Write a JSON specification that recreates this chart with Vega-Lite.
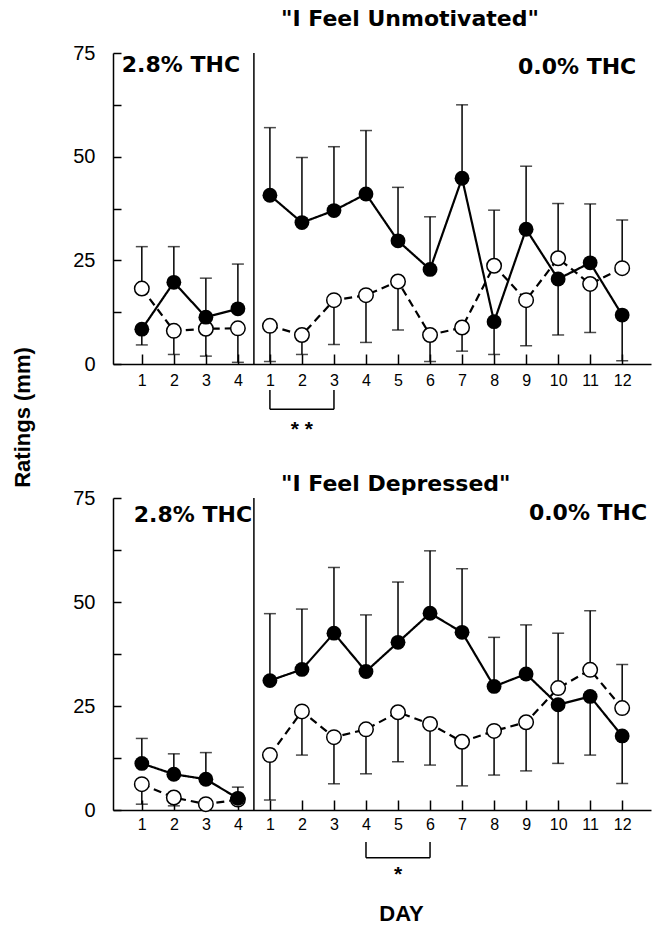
{
  "$schema": "https://vega.github.io/schema/vega-lite/v6.json",
  "background": "white",
  "padding": {"left": 11, "top": 8, "right": 5, "bottom": 0},
  "config": {
    "view": {"stroke": null},
    "axis": {"domainColor": "black", "domainWidth": 1.5, "tickColor": "black", "tickWidth": 1.5, "labelColor": "black", "labelFont": "Liberation Sans", "grid": false, "titleColor": "black", "titleFont": "Liberation Sans", "titleFontWeight": "bold", "labelOverlap": false, "labelFlush": false},
    "title": {"font": "DejaVu Sans", "fontWeight": "bold", "fontSize": 22, "color": "black", "anchor": "start", "frame": "group"}
  },
  "datasets": {
    "pts": [
      {"panel": "U", "phase": "THC", "pos": 1, "grp": "filled", "mean": 8.4, "end": 4.6},
      {"panel": "U", "phase": "THC", "pos": 1, "grp": "open", "mean": 18.2, "end": 28.3},
      {"panel": "U", "phase": "THC", "pos": 2, "grp": "filled", "mean": 19.7, "end": 28.3},
      {"panel": "U", "phase": "THC", "pos": 2, "grp": "open", "mean": 8.0, "end": 2.3},
      {"panel": "U", "phase": "THC", "pos": 3, "grp": "filled", "mean": 11.3, "end": 20.7},
      {"panel": "U", "phase": "THC", "pos": 3, "grp": "open", "mean": 8.5, "end": 1.9},
      {"panel": "U", "phase": "THC", "pos": 4, "grp": "filled", "mean": 13.3, "end": 24.1},
      {"panel": "U", "phase": "THC", "pos": 4, "grp": "open", "mean": 8.6, "end": 0.4},
      {"panel": "U", "phase": "PBO", "pos": 5, "grp": "filled", "mean": 40.7, "end": 57.0},
      {"panel": "U", "phase": "PBO", "pos": 5, "grp": "open", "mean": 9.2, "end": 0.6},
      {"panel": "U", "phase": "PBO", "pos": 6, "grp": "filled", "mean": 34.1, "end": 49.8},
      {"panel": "U", "phase": "PBO", "pos": 6, "grp": "open", "mean": 7.0, "end": 2.3},
      {"panel": "U", "phase": "PBO", "pos": 7, "grp": "filled", "mean": 37.0, "end": 52.4},
      {"panel": "U", "phase": "PBO", "pos": 7, "grp": "open", "mean": 15.4, "end": 4.7},
      {"panel": "U", "phase": "PBO", "pos": 8, "grp": "filled", "mean": 41.0, "end": 56.3},
      {"panel": "U", "phase": "PBO", "pos": 8, "grp": "open", "mean": 16.6, "end": 5.2},
      {"panel": "U", "phase": "PBO", "pos": 9, "grp": "filled", "mean": 29.7, "end": 42.6},
      {"panel": "U", "phase": "PBO", "pos": 9, "grp": "open", "mean": 19.9, "end": 8.2},
      {"panel": "U", "phase": "PBO", "pos": 10, "grp": "filled", "mean": 22.8, "end": 35.5},
      {"panel": "U", "phase": "PBO", "pos": 10, "grp": "open", "mean": 7.0, "end": 0.6},
      {"panel": "U", "phase": "PBO", "pos": 11, "grp": "filled", "mean": 44.8, "end": 62.5},
      {"panel": "U", "phase": "PBO", "pos": 11, "grp": "open", "mean": 8.8, "end": 3.1},
      {"panel": "U", "phase": "PBO", "pos": 12, "grp": "filled", "mean": 10.2, "end": 2.3},
      {"panel": "U", "phase": "PBO", "pos": 12, "grp": "open", "mean": 23.7, "end": 37.1},
      {"panel": "U", "phase": "PBO", "pos": 13, "grp": "filled", "mean": 32.5, "end": 47.7},
      {"panel": "U", "phase": "PBO", "pos": 13, "grp": "open", "mean": 15.4, "end": 4.4},
      {"panel": "U", "phase": "PBO", "pos": 14, "grp": "filled", "mean": 20.5, "end": 7.0},
      {"panel": "U", "phase": "PBO", "pos": 14, "grp": "open", "mean": 25.5, "end": 38.7},
      {"panel": "U", "phase": "PBO", "pos": 15, "grp": "filled", "mean": 24.4, "end": 38.6},
      {"panel": "U", "phase": "PBO", "pos": 15, "grp": "open", "mean": 19.3, "end": 7.6},
      {"panel": "U", "phase": "PBO", "pos": 16, "grp": "filled", "mean": 11.8, "end": 0.8},
      {"panel": "U", "phase": "PBO", "pos": 16, "grp": "open", "mean": 23.1, "end": 34.7},
      {"panel": "D", "phase": "THC", "pos": 1, "grp": "filled", "mean": 11.2, "end": 17.2},
      {"panel": "D", "phase": "THC", "pos": 1, "grp": "open", "mean": 6.2, "end": 1.4},
      {"panel": "D", "phase": "THC", "pos": 2, "grp": "filled", "mean": 8.6, "end": 13.5},
      {"panel": "D", "phase": "THC", "pos": 2, "grp": "open", "mean": 3.0, "end": 1.0},
      {"panel": "D", "phase": "THC", "pos": 3, "grp": "filled", "mean": 7.4, "end": 13.8},
      {"panel": "D", "phase": "THC", "pos": 3, "grp": "open", "mean": 1.4, "end": 1.4},
      {"panel": "D", "phase": "THC", "pos": 4, "grp": "filled", "mean": 2.8, "end": 5.5},
      {"panel": "D", "phase": "THC", "pos": 4, "grp": "open", "mean": 2.5, "end": 2.5},
      {"panel": "D", "phase": "PBO", "pos": 5, "grp": "filled", "mean": 31.1, "end": 47.2},
      {"panel": "D", "phase": "PBO", "pos": 5, "grp": "open", "mean": 13.2, "end": 2.4},
      {"panel": "D", "phase": "PBO", "pos": 6, "grp": "filled", "mean": 33.8, "end": 48.3},
      {"panel": "D", "phase": "PBO", "pos": 6, "grp": "open", "mean": 23.7, "end": 13.2},
      {"panel": "D", "phase": "PBO", "pos": 7, "grp": "filled", "mean": 42.5, "end": 58.3},
      {"panel": "D", "phase": "PBO", "pos": 7, "grp": "open", "mean": 17.5, "end": 6.3},
      {"panel": "D", "phase": "PBO", "pos": 8, "grp": "filled", "mean": 33.3, "end": 46.9},
      {"panel": "D", "phase": "PBO", "pos": 8, "grp": "open", "mean": 19.4, "end": 8.7},
      {"panel": "D", "phase": "PBO", "pos": 9, "grp": "filled", "mean": 40.3, "end": 54.8},
      {"panel": "D", "phase": "PBO", "pos": 9, "grp": "open", "mean": 23.5, "end": 11.6},
      {"panel": "D", "phase": "PBO", "pos": 10, "grp": "filled", "mean": 47.3, "end": 62.3},
      {"panel": "D", "phase": "PBO", "pos": 10, "grp": "open", "mean": 20.7, "end": 10.8},
      {"panel": "D", "phase": "PBO", "pos": 11, "grp": "filled", "mean": 42.7, "end": 58.0},
      {"panel": "D", "phase": "PBO", "pos": 11, "grp": "open", "mean": 16.4, "end": 5.8},
      {"panel": "D", "phase": "PBO", "pos": 12, "grp": "filled", "mean": 29.7, "end": 41.5},
      {"panel": "D", "phase": "PBO", "pos": 12, "grp": "open", "mean": 19.0, "end": 8.4},
      {"panel": "D", "phase": "PBO", "pos": 13, "grp": "filled", "mean": 32.7, "end": 44.5},
      {"panel": "D", "phase": "PBO", "pos": 13, "grp": "open", "mean": 21.1, "end": 9.4},
      {"panel": "D", "phase": "PBO", "pos": 14, "grp": "filled", "mean": 25.3, "end": 11.2},
      {"panel": "D", "phase": "PBO", "pos": 14, "grp": "open", "mean": 29.3, "end": 42.5},
      {"panel": "D", "phase": "PBO", "pos": 15, "grp": "filled", "mean": 27.3, "end": 13.2},
      {"panel": "D", "phase": "PBO", "pos": 15, "grp": "open", "mean": 33.7, "end": 47.9},
      {"panel": "D", "phase": "PBO", "pos": 16, "grp": "filled", "mean": 17.8, "end": 6.4},
      {"panel": "D", "phase": "PBO", "pos": 16, "grp": "open", "mean": 24.5, "end": 35.0}
    ],
    "ann": [
      {"panel": "U", "side": "left", "pos": 0.375, "val": 72.1, "label": "2.8% THC"},
      {"panel": "U", "side": "right", "pos": 16.44, "val": 71.6, "label": "0.0% THC"},
      {"panel": "U", "side": "center", "pos": 6, "val": -14.7, "label": "* *"},
      {"panel": "D", "side": "left", "pos": 0.75, "val": 70.9, "label": "2.8% THC"},
      {"panel": "D", "side": "right", "pos": 16.78, "val": 71.4, "label": "0.0% THC"},
      {"panel": "D", "side": "center", "pos": 9, "val": -14.4, "label": "*"}
    ],
    "seg": [
      {"panel": "U", "x1": 4.5, "x2": 4.5, "y1": 0, "y2": 75},
      {"panel": "U", "x1": 5, "x2": 5, "y1": -6.3, "y2": -10.9},
      {"panel": "U", "x1": 5, "x2": 7, "y1": -10.9, "y2": -10.9},
      {"panel": "U", "x1": 7, "x2": 7, "y1": -6.3, "y2": -10.9},
      {"panel": "D", "x1": 4.5, "x2": 4.5, "y1": 0, "y2": 75},
      {"panel": "D", "x1": 8, "x2": 8, "y1": -7.7, "y2": -11.5},
      {"panel": "D", "x1": 8, "x2": 10, "y1": -11.5, "y2": -11.5},
      {"panel": "D", "x1": 10, "x2": 10, "y1": -7.7, "y2": -11.5}
    ]
  },
  "spacing": 134,
  "bounds": "flush",
  "vconcat": [
    {
      "width": 538,
      "height": 311,
      "title": {"text": "\"I Feel Unmotivated\"", "dx": 168, "offset": 12},
      "layer": [
        {
          "data": {"name": "pts"},
          "transform": [{"filter": "datum.panel === 'U'"}],
          "mark": {"type": "rule", "color": "black", "strokeWidth": 1.5},
          "encoding": {
            "x": {"field": "pos", "type": "quantitative", "scale": {"domain": [0.1, 16.9], "nice": false, "zero": false},
              "axis": {"title": null, "values": [1,2,3,4,5,6,7,8,9,10,11,12,13,14,15,16], "tickCount": 40, "format": "d", "labelExpr": "datum.value > 4 ? '' + (datum.value - 4) : '' + datum.value", "labelOverlap": false, "labelBound": false, "tickSize": -10, "labelPadding": 18, "labelFontSize": 16}},
            "y": {"field": "mean", "type": "quantitative", "scale": {"domain": [0, 75], "nice": false, "zero": false},
              "axis": {"title": "Ratings (mm)", "titleX": -91, "titleY": 364, "titleAngle": 270, "titleAlign": "center", "titleBaseline": "middle", "titleFontSize": 22, "values": [0, 12.5, 25, 37.5, 50, 62.5, 75], "tickCount": 20, "labelExpr": "datum.value % 25 === 0 ? '' + datum.value : ''", "labelOverlap": false, "tickSize": -8, "labelPadding": 26, "labelFontSize": 20}},
            "y2": {"field": "end"}
          }
        },
        {
          "data": {"name": "pts"},
          "transform": [{"filter": "datum.panel === 'U'"}],
          "mark": {"type": "tick", "orient": "horizontal", "color": "black", "size": 12, "thickness": 1.5},
          "encoding": {
            "x": {"field": "pos", "type": "quantitative"},
            "y": {"field": "end", "type": "quantitative"}
          }
        },
        {
          "data": {"name": "pts"},
          "transform": [{"filter": "datum.panel === 'U'"}],
          "mark": {"type": "line", "color": "black", "strokeWidth": 2.2},
          "encoding": {
            "x": {"field": "pos", "type": "quantitative"},
            "y": {"field": "mean", "type": "quantitative"},
            "detail": {"field": "phase"},
            "strokeDash": {"field": "grp", "type": "nominal", "scale": {"domain": ["filled", "open"], "range": [[1, 0], [8, 5]]}, "legend": null}
          }
        },
        {
          "data": {"name": "pts"},
          "transform": [{"filter": "datum.panel === 'U' && datum.grp === 'open'"}],
          "mark": {"type": "point", "shape": "circle", "filled": true, "fill": "white", "stroke": "black", "strokeWidth": 1.5, "size": 210, "opacity": 1},
          "encoding": {
            "x": {"field": "pos", "type": "quantitative"},
            "y": {"field": "mean", "type": "quantitative"}
          }
        },
        {
          "data": {"name": "pts"},
          "transform": [{"filter": "datum.panel === 'U' && datum.grp === 'filled'"}],
          "mark": {"type": "circle", "color": "black", "size": 220, "opacity": 1},
          "encoding": {
            "x": {"field": "pos", "type": "quantitative"},
            "y": {"field": "mean", "type": "quantitative"}
          }
        },
        {
          "data": {"name": "seg"},
          "transform": [{"filter": "datum.panel === 'U'"}],
          "mark": {"type": "rule", "color": "black", "strokeWidth": 1.5},
          "encoding": {
            "x": {"field": "x1", "type": "quantitative"},
            "x2": {"field": "x2"},
            "y": {"field": "y1", "type": "quantitative"},
            "y2": {"field": "y2"}
          }
        },
        {
          "data": {"name": "ann"},
          "transform": [{"filter": "datum.panel === 'U' && datum.side === 'left'"}],
          "mark": {"type": "text", "align": "left", "baseline": "middle", "font": "DejaVu Sans", "fontWeight": "bold", "fontSize": 22, "color": "black"},
          "encoding": {
            "x": {"field": "pos", "type": "quantitative"},
            "y": {"field": "val", "type": "quantitative"},
            "text": {"field": "label"}
          }
        },
        {
          "data": {"name": "ann"},
          "transform": [{"filter": "datum.panel === 'U' && datum.side === 'right'"}],
          "mark": {"type": "text", "align": "right", "baseline": "middle", "font": "DejaVu Sans", "fontWeight": "bold", "fontSize": 22, "color": "black"},
          "encoding": {
            "x": {"field": "pos", "type": "quantitative"},
            "y": {"field": "val", "type": "quantitative"},
            "text": {"field": "label"}
          }
        },
        {
          "data": {"name": "ann"},
          "transform": [{"filter": "datum.panel === 'U' && datum.side === 'center'"}],
          "mark": {"type": "text", "align": "center", "baseline": "middle", "font": "Liberation Sans", "fontWeight": "bold", "fontSize": 21, "dy": 5, "color": "black"},
          "encoding": {
            "x": {"field": "pos", "type": "quantitative"},
            "y": {"field": "val", "type": "quantitative"},
            "text": {"field": "label"}
          }
        }
      ]
    },
    {
      "width": 538,
      "height": 312,
      "title": {"text": "\"I Feel Depressed\"", "dx": 168, "offset": -8},
      "layer": [
        {
          "data": {"name": "pts"},
          "transform": [{"filter": "datum.panel === 'D'"}],
          "mark": {"type": "rule", "color": "black", "strokeWidth": 1.5},
          "encoding": {
            "x": {"field": "pos", "type": "quantitative", "scale": {"domain": [0.1, 16.9], "nice": false, "zero": false},
              "axis": {"title": "DAY", "titleX": 288, "titleY": 93, "titleAlign": "center", "titleBaseline": "top", "titleFontSize": 22, "values": [1,2,3,4,5,6,7,8,9,10,11,12,13,14,15,16], "tickCount": 40, "format": "d", "labelExpr": "datum.value > 4 ? '' + (datum.value - 4) : '' + datum.value", "labelOverlap": false, "labelBound": false, "tickSize": -10, "labelPadding": 16, "labelFontSize": 16}},
            "y": {"field": "mean", "type": "quantitative", "scale": {"domain": [0, 75], "nice": false, "zero": false},
              "axis": {"title": null, "values": [0, 12.5, 25, 37.5, 50, 62.5, 75], "tickCount": 20, "labelExpr": "datum.value % 25 === 0 ? '' + datum.value : ''", "labelOverlap": false, "tickSize": -8, "labelPadding": 26, "labelFontSize": 20}},
            "y2": {"field": "end"}
          }
        },
        {
          "data": {"name": "pts"},
          "transform": [{"filter": "datum.panel === 'D'"}],
          "mark": {"type": "tick", "orient": "horizontal", "color": "black", "size": 12, "thickness": 1.5},
          "encoding": {
            "x": {"field": "pos", "type": "quantitative"},
            "y": {"field": "end", "type": "quantitative"}
          }
        },
        {
          "data": {"name": "pts"},
          "transform": [{"filter": "datum.panel === 'D'"}],
          "mark": {"type": "line", "color": "black", "strokeWidth": 2.2},
          "encoding": {
            "x": {"field": "pos", "type": "quantitative"},
            "y": {"field": "mean", "type": "quantitative"},
            "detail": {"field": "phase"},
            "strokeDash": {"field": "grp", "type": "nominal", "scale": {"domain": ["filled", "open"], "range": [[1, 0], [8, 5]]}, "legend": null}
          }
        },
        {
          "data": {"name": "pts"},
          "transform": [{"filter": "datum.panel === 'D' && datum.grp === 'open'"}],
          "mark": {"type": "point", "shape": "circle", "filled": true, "fill": "white", "stroke": "black", "strokeWidth": 1.5, "size": 210, "opacity": 1},
          "encoding": {
            "x": {"field": "pos", "type": "quantitative"},
            "y": {"field": "mean", "type": "quantitative"}
          }
        },
        {
          "data": {"name": "pts"},
          "transform": [{"filter": "datum.panel === 'D' && datum.grp === 'filled'"}],
          "mark": {"type": "circle", "color": "black", "size": 220, "opacity": 1},
          "encoding": {
            "x": {"field": "pos", "type": "quantitative"},
            "y": {"field": "mean", "type": "quantitative"}
          }
        },
        {
          "data": {"name": "seg"},
          "transform": [{"filter": "datum.panel === 'D'"}],
          "mark": {"type": "rule", "color": "black", "strokeWidth": 1.5},
          "encoding": {
            "x": {"field": "x1", "type": "quantitative"},
            "x2": {"field": "x2"},
            "y": {"field": "y1", "type": "quantitative"},
            "y2": {"field": "y2"}
          }
        },
        {
          "data": {"name": "ann"},
          "transform": [{"filter": "datum.panel === 'D' && datum.side === 'left'"}],
          "mark": {"type": "text", "align": "left", "baseline": "middle", "font": "DejaVu Sans", "fontWeight": "bold", "fontSize": 22, "color": "black"},
          "encoding": {
            "x": {"field": "pos", "type": "quantitative"},
            "y": {"field": "val", "type": "quantitative"},
            "text": {"field": "label"}
          }
        },
        {
          "data": {"name": "ann"},
          "transform": [{"filter": "datum.panel === 'D' && datum.side === 'right'"}],
          "mark": {"type": "text", "align": "right", "baseline": "middle", "font": "DejaVu Sans", "fontWeight": "bold", "fontSize": 22, "color": "black"},
          "encoding": {
            "x": {"field": "pos", "type": "quantitative"},
            "y": {"field": "val", "type": "quantitative"},
            "text": {"field": "label"}
          }
        },
        {
          "data": {"name": "ann"},
          "transform": [{"filter": "datum.panel === 'D' && datum.side === 'center'"}],
          "mark": {"type": "text", "align": "center", "baseline": "middle", "font": "Liberation Sans", "fontWeight": "bold", "fontSize": 21, "dy": 5, "color": "black"},
          "encoding": {
            "x": {"field": "pos", "type": "quantitative"},
            "y": {"field": "val", "type": "quantitative"},
            "text": {"field": "label"}
          }
        }
      ]
    }
  ]
}
